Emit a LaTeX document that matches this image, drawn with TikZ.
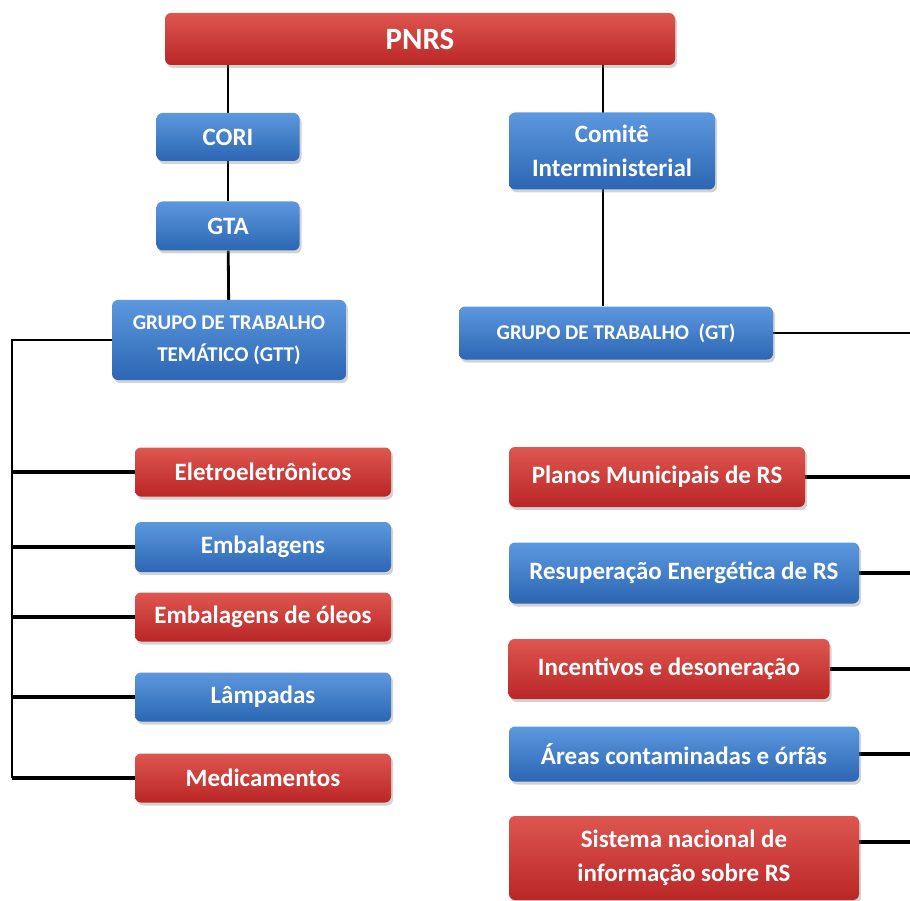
\documentclass[tikz,border=0pt]{standalone}
\usepackage{fontspec}
\setmainfont{Carlito}
\usetikzlibrary{shadows,backgrounds}
\definecolor{redtop}{RGB}{222,86,80}
\definecolor{redbot}{RGB}{186,38,38}
\definecolor{bluetop}{RGB}{92,152,222}
\definecolor{bluebot}{RGB}{44,102,180}
\begin{document}
\begin{tikzpicture}[x=1pt, y=-1pt,
  box/.style={rounded corners=6pt, inner sep=0pt, align=center, text=white,
    font=\bfseries\fontsize{25}{34}\selectfont,
    drop shadow={opacity=0.35, shadow xshift=2pt, shadow yshift=-3pt}},
  redbox/.style={box, top color=redtop, bottom color=redbot},
  bluebox/.style={box, top color=bluetop, bottom color=bluebot},
  link/.style={line width=2.8pt},
  branch/.style={line width=4pt}]
\useasboundingbox (0,0) rectangle (910,901);
% top
\node[redbox, minimum width=510pt, minimum height=52pt, font=\bfseries\fontsize{31}{34}\selectfont] (PNRS) at (420,39) {PNRS};
\node[bluebox, minimum width=143pt, minimum height=48pt] (CORI) at (228,137) {CORI};
\node[bluebox, minimum width=206pt, minimum height=77pt] (Comite) at (612,151) {Comitê\\Interministerial};
\node[bluebox, minimum width=143pt, minimum height=49pt] (GTA) at (228,226) {GTA};
\node[bluebox, minimum width=234pt, minimum height=80pt, font=\bfseries\fontsize{21}{32}\selectfont] (GTT) at (229,340) {GRUPO DE TRABALHO\\TEMÁTICO (GTT)};
\node[bluebox, minimum width=314pt, minimum height=53pt, font=\bfseries\fontsize{21}{24}\selectfont] (GT) at (616,333) {GRUPO DE TRABALHO\ \ (GT)};
\coordinate (comx) at (603,0);
\coordinate (L) at (12,0);
\coordinate (R) at (910,0);
% left items
\node[redbox, minimum width=256pt, minimum height=49pt] (Eletro) at (263,472) {Eletroeletrônicos};
\node[bluebox, minimum width=256pt, minimum height=50pt] (Emb) at (263,547) {Embalagens};
\node[redbox, minimum width=256pt, minimum height=49pt] (Oleos) at (263,617) {Embalagens de óleos};
\node[bluebox, minimum width=256pt, minimum height=49pt] (Lamp) at (263,697) {Lâmpadas};
\node[redbox, minimum width=256pt, minimum height=49pt] (Medic) at (263,778) {Medicamentos};
% right items
\node[redbox, minimum width=296pt, minimum height=60pt] (Planos) at (657,477) {Planos Municipais de RS};
\node[bluebox, minimum width=350pt, minimum height=61pt] (Energ) at (684,573) {Resuperação Energética de RS};
\node[redbox, minimum width=321pt, minimum height=60pt] (Incent) at (669,669) {Incentivos e desoneração};
\node[bluebox, minimum width=350pt, minimum height=55pt] (Areas) at (684,754) {Áreas contaminadas e órfãs};
\node[redbox, minimum width=350pt, minimum height=84pt] (Sist) at (684,858) {Sistema nacional de\\informação sobre RS};
% connectors
\begin{pgfonlayer}{background}
\draw[link] (PNRS.south -| CORI) -- (CORI.north);
\draw[link] (CORI) -- (GTA);
\draw[link] (GTA) -- (GTT);
\draw[link] (PNRS.south -| comx) -- (GT.north -| comx);
\draw[link] (GTT.west) -- (GTT.west -| L) -- (Medic.west -| L);
\foreach \n in {Eletro, Emb, Oleos, Lamp, Medic}
  \draw[branch] (\n.west -| L) -- (\n.west);
\draw[link] (GT.east) -- (GT.east -| R);
\foreach \n in {Planos, Energ, Incent, Areas}
  \draw[branch] (\n.east) -- (\n.east -| R);
\draw[branch] ([yshift=16pt]Sist.east) -- ([yshift=16pt]Sist.east -| R);
\end{pgfonlayer}
\end{tikzpicture}
\end{document}
